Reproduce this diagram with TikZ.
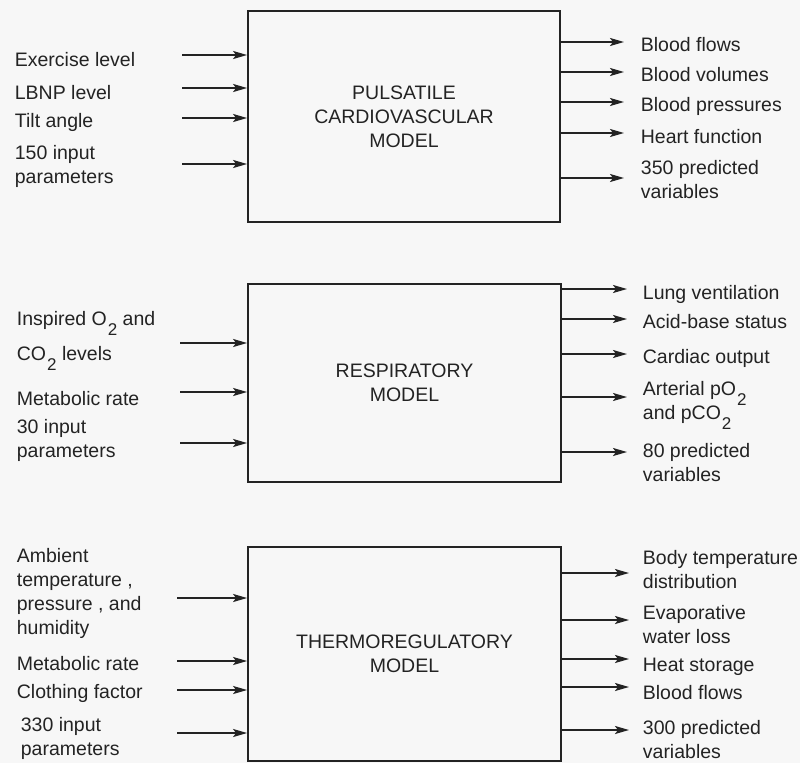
\documentclass[tikz,border=0pt]{standalone}
\usepackage{fontspec}
\setmainfont{Liberation Sans}
\usetikzlibrary{arrows.meta}
\definecolor{paper}{RGB}{247,247,247}
\definecolor{ink}{RGB}{35,35,35}
\newcommand{\dnum}[1]{\kern1pt\smash{\raisebox{-10pt}{\fontsize{17}{17}\selectfont #1}}}
\begin{document}
\begin{tikzpicture}[x=1pt,y=-1pt,line width=1.8pt,color=ink,
    model/.style={draw,shape=rectangle,align=center,inner sep=0pt,
      font=\fontsize{19.5}{24}\selectfont},
    lbl/.style={anchor=base west,align=left,inner sep=0pt,
      font=\fontsize{19.5}{24}\selectfont},
    arr/.style={-{Stealth[length=14pt,width=8pt,inset=3pt]}}]

   \fill[paper] (0,0) rectangle (800,763);
   \useasboundingbox (0,0) rectangle (800,763);

   % pulsatile cardiovascular model
   \path (404,116.5) node[model,minimum width=312,minimum height=211] (pcm)
      {PULSATILE\\CARDIOVASCULAR\\MODEL};

   \path (14,66) node[lbl] (p1) {Exercise level};
   \path (14,99) node[lbl] (p2) {LBNP level};
   \path (14,127) node[lbl] (p3) {Tilt angle};
   \path (14,183) node[lbl] (p4) {150 input\\parameters};
   \coordinate (pi1) at (182,55);
   \coordinate (pi2) at (182,88);
   \coordinate (pi3) at (182,118);
   \coordinate (pi4) at (182,164);

   \path (640,51) node[lbl] (q1) {Blood flows};
   \path (640,81) node[lbl] (q2) {Blood volumes};
   \path (640,111) node[lbl] (q3) {Blood pressures};
   \path (640,143) node[lbl] (q4) {Heart function};
   \path (640,198) node[lbl] (q5) {350 predicted\\variables};
   \coordinate (po1) at (624,42);
   \coordinate (po2) at (624,72);
   \coordinate (po3) at (624,102);
   \coordinate (po4) at (624,133);
   \coordinate (po5) at (624,178);

   \foreach \i in {1,...,4}
      \draw[arr] (pi\i) -- (pi\i -| pcm.west);
   \foreach \i in {1,...,5}
      \draw[arr] (po\i -| pcm.east) -- (po\i);

   % respiratory model
   \path (404.5,383) node[model,minimum width=313,minimum height=198] (rm)
      {RESPIRATORY\\MODEL};

   \path (16,325) node[lbl] (r1) {Inspired O\dnum{2} and};
   \path (16,360) node[lbl] (r2) {CO\dnum{2} levels};
   \path (16,405) node[lbl] (r3) {Metabolic rate};
   \path (16,457) node[lbl] (r4) {30 input\\parameters};
   \coordinate (ri1) at (180,343);
   \coordinate (ri2) at (180,392);
   \coordinate (ri3) at (180,443);

   \path (642,299) node[lbl] (s1) {Lung ventilation};
   \path (642,328) node[lbl] (s2) {Acid-base status};
   \path (642,363) node[lbl] (s3) {Cardiac output};
   \path (642,395) node[lbl] (s4) {Arterial pO\dnum{2}};
   \path (642,419) node[lbl] (s5) {and pCO\dnum{2}};
   \path (642,481) node[lbl] (s6) {80 predicted\\variables};
   \coordinate (ro1) at (627,289);
   \coordinate (ro2) at (627,319);
   \coordinate (ro3) at (627,354);
   \coordinate (ro4) at (627,397);
   \coordinate (ro5) at (627,452);

   \foreach \i in {1,...,3}
      \draw[arr] (ri\i) -- (ri\i -| rm.west);
   \foreach \i in {1,...,5}
      \draw[arr] (ro\i -| rm.east) -- (ro\i);

   % thermoregulatory model
   \path (404.5,654) node[model,minimum width=313,minimum height=214] (tm)
      {THERMOREGULATORY\\MODEL};

   \path (16,634) node[lbl] (t1) {Ambient\\temperature ,\\pressure , and\\humidity};
   \path (16,670) node[lbl] (t2) {Metabolic rate};
   \path (16,698) node[lbl] (t3) {Clothing factor};
   \path (20,755) node[lbl] (t4) {330 input\\parameters};
   \coordinate (ti1) at (177,598);
   \coordinate (ti2) at (177,661);
   \coordinate (ti3) at (177,690);
   \coordinate (ti4) at (177,733);

   \path (642,588) node[lbl] (u1) {Body temperature\\distribution};
   \path (642,643) node[lbl] (u2) {Evaporative\\water loss};
   \path (642,671) node[lbl] (u3) {Heat storage};
   \path (642,699) node[lbl] (u4) {Blood flows};
   \path (642,758) node[lbl] (u5) {300 predicted\\variables};
   \coordinate (to1) at (629,573);
   \coordinate (to2) at (629,620);
   \coordinate (to3) at (629,659);
   \coordinate (to4) at (629,687);
   \coordinate (to5) at (629,730);

   \foreach \i in {1,...,4}
      \draw[arr] (ti\i) -- (ti\i -| tm.west);
   \foreach \i in {1,...,5}
      \draw[arr] (to\i -| tm.east) -- (to\i);

\end{tikzpicture}
\end{document}
